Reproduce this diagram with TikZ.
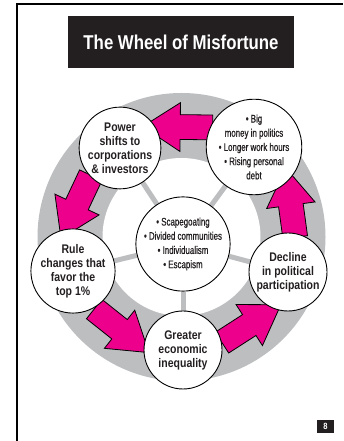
\documentclass[tikz,border=0pt]{standalone}
\usepackage{fontspec}
\setmainfont{Liberation Sans}[FakeStretch=0.84]
\newfontfamily\narrowfont{Liberation Sans}[FakeStretch=0.72,FakeBold=0.6]
\usetikzlibrary{shapes.arrows,backgrounds}
\definecolor{ink}{HTML}{231F20}
\definecolor{wheelgray}{HTML}{BCBEC0}
\definecolor{hotpink}{HTML}{EC008C}

\begin{document}
\begin{tikzpicture}[x=1pt,y=1pt,text=ink,
    spoke/.style={wheelgray,line width=5pt},
    wheelarrow/.style={single arrow,draw=black,fill=hotpink,line width=0.8pt,
      inner xsep=0pt,inner ysep=12pt,minimum height=70pt,
      single arrow head extend=12pt,single arrow tip angle=66,
      sloped,allow upside down,pos=.42}]
  \tikzstyle{stage}=[circle,draw=black,fill=white,line width=0.9pt,minimum size=78pt,
      inner sep=0pt,align=center,font=\fontsize{12.5}{14}\selectfont\bfseries]
  \tikzstyle{bullets}=[stage,font=\narrowfont\fontsize{11}{14.2}\selectfont]

  \useasboundingbox (0,0) rectangle (343,441);

  % frame, title and page number
  \draw[line width=2pt] (17,0) -- (17,436.7) -- (343,436.7);
  \node[fill=ink,text=white,minimum width=226pt,minimum height=52pt,
        font=\fontsize{20}{24}\selectfont\bfseries] (title) at (181,399) {The Wheel of Misfortune};
  \node[fill=ink,text=white,minimum width=17pt,minimum height=13pt,inner sep=0pt,
        font=\fontsize{9}{10}\selectfont\bfseries] (page) at (325.5,14.5) {8};

  % the five stages round the hub
  \node[bullets,minimum size=76pt] (hub) at (183,197)
      {• Scapegoating\\• Divided communities\\• Individualism\\• Escapism};
  \node[stage]   (power)   at (120,293) {Power\\shifts to\\corporations\\\& investors};
  \node[bullets] (money)   at (254,294)
      {• Big\\money in politics\\• Longer work hours\\• Rising personal\\debt};
  \node[stage]   (rule)    at (73,170)  {Rule\\changes that\\favor the\\top 1\%};
  \node[stage]   (greater) at (183,91)  {Greater\\economic\\inequality};
  \node[stage]   (decline) at (288,169) {Decline\\in political\\participation};

  \begin{scope}[on background layer]
    \fill[wheelgray] (181.5,204) circle (144);
    \fill[white] (181.5,204) circle (79);
    \foreach \s in {power,money,rule,greater,decline}
      \draw[spoke] (hub) -- (\s);
    \path (money)   to[bend right=20] node[wheelarrow] {} (power)
          (power)   to[bend right=20] node[wheelarrow] {} (rule)
          (rule)    to[bend right=20] node[wheelarrow] {} (greater)
          (greater) to[bend right=20] node[wheelarrow] {} (decline)
          (decline) to[bend right=20] node[wheelarrow] {} (money);
  \end{scope}
\end{tikzpicture}
\end{document}
